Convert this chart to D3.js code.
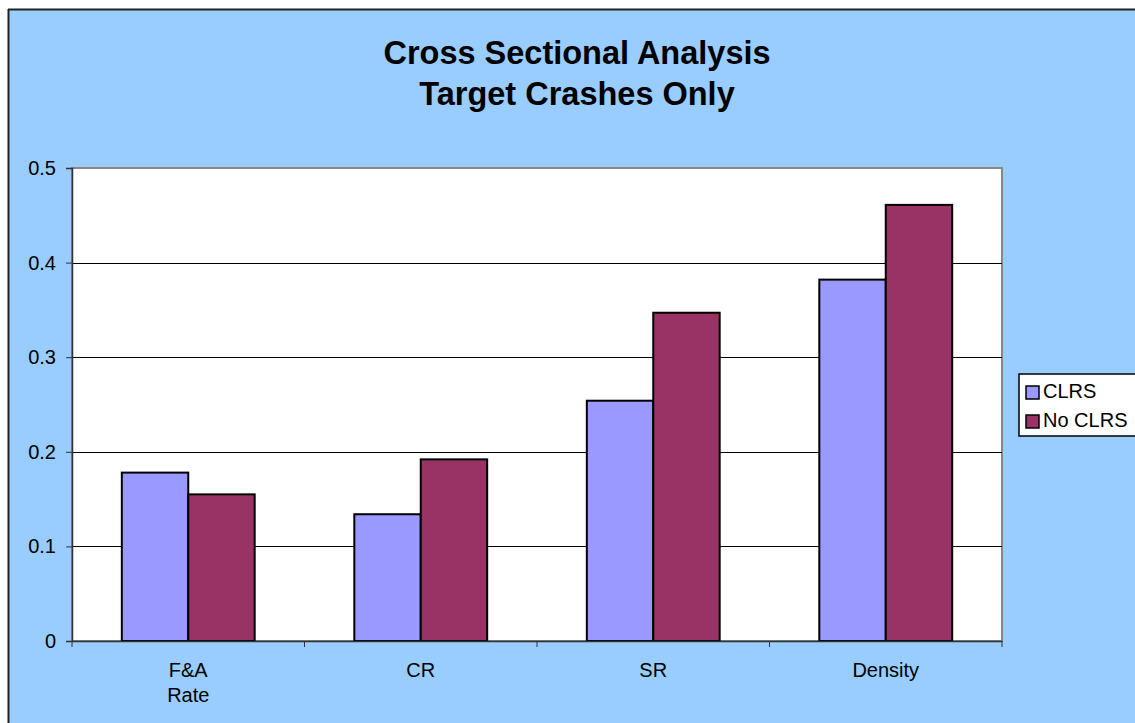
<!DOCTYPE html>
<html>
<head>
<meta charset="utf-8">
<script src="https://cdn.jsdelivr.net/npm/d3@7"></script>
<style>
  body { margin: 0; background: #fff; }
  text { font-family: "Liberation Sans", Arial, sans-serif; fill: #000; }
</style>
</head>
<body>
<script>
// data
var categories = ["F&A\nRate", "CR", "SR", "Density"];
var seriesNames = ["CLRS", "No CLRS"];
var clrs = [0.178, 0.134, 0.254, 0.382];
var noClrs = [0.155, 0.192, 0.347, 0.461];
var yTicks = [0, 0.1, 0.2, 0.3, 0.4, 0.5];
var colors = ["#9999FF", "#993366"];

var W = 1135, H = 723,
    font = "'Liberation Sans', Arial, sans-serif",
    svg = d3.select("body").append("svg").attr("width", W).attr("height", H),
    plot = {left: 72, top: 168, right: 1002, bottom: 641};

// chart area
svg.append("rect").attr("x", 9).attr("y", 10).attr("width", W - 9).attr("height", H - 10)
   .attr("fill", "#99CCFF");
svg.append("line").attr("x1", 8.5).attr("x2", 8.5).attr("y1", 9).attr("y2", H)
   .attr("stroke", "#222").attr("stroke-width", 2);
svg.append("line").attr("x1", 8).attr("x2", W).attr("y1", 9.5).attr("y2", 9.5)
   .attr("stroke", "#222").attr("stroke-width", 2);

// title
var title = svg.append("text").attr("text-anchor", "middle")
   .attr("font-size", 32.5).attr("font-weight", "bold").attr("font-family", font);
title.append("tspan").attr("x", 577).attr("y", 64).text("Cross Sectional Analysis");
title.append("tspan").attr("x", 577).attr("y", 105).text("Target Crashes Only");

var y = d3.scaleLinear().domain([0, 0.5]).range([plot.bottom, plot.top]);
var x0 = d3.scaleBand().domain(d3.range(categories.length))
   .range([plot.left, plot.right]).paddingInner(0).paddingOuter(0);
var bw = x0.bandwidth() / 3.5;

var g = svg.append("g");
g.append("rect").attr("x", plot.left).attr("y", plot.top)
   .attr("width", plot.right - plot.left).attr("height", plot.bottom - plot.top)
   .attr("fill", "#fff").attr("stroke", "#888").attr("stroke-width", 2);

// gridlines
g.selectAll(".grid").data(yTicks.slice(1, -1)).enter().append("line")
   .attr("x1", plot.left).attr("x2", plot.right)
   .attr("y1", function(d){ return Math.round(y(d)) + 0.5; })
   .attr("y2", function(d){ return Math.round(y(d)) + 0.5; })
   .attr("stroke", "#000").attr("stroke-width", 1);

// bars
var series = [clrs, noClrs];
series.forEach(function(vals, s){
  g.selectAll(".bar" + s).data(vals).enter().append("rect")
     .attr("x", function(d, i){ return x0(i) + bw * 0.75 + s * bw; })
     .attr("y", function(d){ return y(d); })
     .attr("width", bw)
     .attr("height", function(d){ return y(0) - y(d); })
     .attr("fill", colors[s]).attr("stroke", "#000").attr("stroke-width", 2);
});

// y axis
var yAxis = d3.axisLeft(y).tickValues(yTicks).tickSize(6).tickPadding(10)
   .tickFormat(function(d){ return d === 0 ? "0" : d3.format(".1f")(d); });
var ya = svg.append("g").attr("transform", "translate(" + plot.left + ",0)").call(yAxis);
ya.attr("font-family", font).attr("font-size", 20);
ya.select(".domain").attr("stroke", "#333").attr("stroke-width", 1.5);
ya.selectAll(".tick line").attr("stroke", "#333");

// x axis
var xAxis = d3.axisBottom(x0).tickValues([]).tickSizeOuter(0);
var xa = svg.append("g").attr("transform", "translate(0," + plot.bottom + ")").call(xAxis);
xa.select(".domain").attr("stroke", "#333").attr("stroke-width", 1.5);
xa.selectAll(".bt").data(d3.range(categories.length + 1)).enter().append("line")
   .attr("x1", function(d){ return plot.left + d * x0.step(); })
   .attr("x2", function(d){ return plot.left + d * x0.step(); })
   .attr("y1", 0).attr("y2", 6).attr("stroke", "#333");

var labels = svg.selectAll(".cat").data(categories).enter().append("text")
   .attr("text-anchor", "middle").attr("font-size", 20).attr("font-family", font);
labels.each(function(d, i){
  var t = d3.select(this);
  d.split("\n").forEach(function(line, k){
    t.append("tspan").attr("x", x0(i) + x0.bandwidth() / 2).attr("y", 677 + k * 25).text(line);
  });
});

// legend
var lg = svg.append("g").attr("transform", "translate(1019,374)");
lg.append("rect").attr("width", 125).attr("height", 62).attr("fill", "#fff")
   .attr("stroke", "#000").attr("stroke-width", 1.5);
seriesNames.forEach(function(n, i){
  lg.append("rect").attr("x", 7).attr("y", 12 + i * 29).attr("width", 13).attr("height", 13)
     .attr("fill", colors[i]).attr("stroke", "#000").attr("stroke-width", 1.5);
  lg.append("text").attr("x", 24).attr("y", 24 + i * 29).attr("font-size", 20)
     .attr("font-family", font).text(n);
});
</script>
</body>
</html>
